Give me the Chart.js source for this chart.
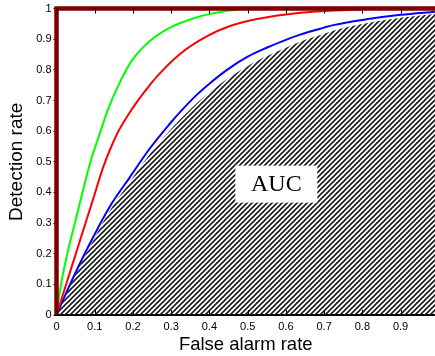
<!DOCTYPE html>
<html>
<head>
<meta charset="utf-8">
<script src="https://cdn.jsdelivr.net/npm/chart.js@4"></script>
<style>
  body { margin: 0; background: #fff; }
</style>
</head>
<body>
<canvas id="roc" width="435" height="356"></canvas>
<script>
// ROC curves, three detectors plus the ideal one
const greenX = [0, 0.005, 0.014, 0.03, 0.044, 0.06, 0.075, 0.09, 0.114, 0.136, 0.166, 0.197, 0.245, 0.297, 0.368, 0.42, 0.454, 0.49];
const greenY = [0, 0.045, 0.115, 0.21, 0.28, 0.36, 0.435, 0.505, 0.595, 0.675, 0.76, 0.83, 0.895, 0.938, 0.972, 0.987, 0.994, 1.0];

const redX = [0, 0.01, 0.027, 0.05, 0.07, 0.095, 0.122, 0.158, 0.192, 0.21, 0.245, 0.263, 0.323, 0.394, 0.454, 0.524, 0.60, 0.70, 0.80];
const redY = [0, 0.04, 0.107, 0.198, 0.277, 0.375, 0.482, 0.59, 0.662, 0.695, 0.752, 0.779, 0.852, 0.91, 0.943, 0.966, 0.981, 0.992, 0.997];

const blueX = [0, 0.03, 0.06, 0.088, 0.14, 0.192, 0.245, 0.297, 0.323, 0.368, 0.40, 0.446, 0.50, 0.551, 0.60, 0.637, 0.70, 0.724, 0.81, 0.90, 0.99];
const blueY = [0, 0.085, 0.165, 0.235, 0.355, 0.45, 0.545, 0.625, 0.662, 0.72, 0.755, 0.80, 0.843, 0.873, 0.898, 0.915, 0.938, 0.946, 0.965, 0.98, 0.99];
// upper edge of the hatched AUC region (sits just under the blue curve)
const hatchY = [0, 0.08, 0.158, 0.225, 0.342, 0.435, 0.527, 0.603, 0.638, 0.693, 0.726, 0.77, 0.813, 0.845, 0.872, 0.892, 0.918, 0.928, 0.952, 0.97, 0.982];

const idealX = [0, 0, 1];
const idealY = [0, 1, 1];

const xTicks = [0, 0.1, 0.2, 0.3, 0.4, 0.5, 0.6, 0.7, 0.8, 0.9];
const yTicks = [0, 0.1, 0.2, 0.3, 0.4, 0.5, 0.6, 0.7, 0.8, 0.9, 1];

const pts = (xs, ys) => xs.map((v, i) => ({ x: v, y: ys[i] }));

const ctx = document.getElementById('roc').getContext('2d');

// diagonal "////" hatch
function makeHatch() {
  const c = document.createElement('canvas');
  c.width = 5; c.height = 5;
  const g = c.getContext('2d');
  g.strokeStyle = '#1a1a1a';
  g.lineWidth = 1.6;
  g.beginPath();
  g.moveTo(0, 5); g.lineTo(5, 0);
  g.moveTo(-1, 1); g.lineTo(1, -1);
  g.moveTo(4, 6); g.lineTo(6, 4);
  g.stroke();
  return ctx.createPattern(c, 'repeat');
}

// MATLAB-like inward ticks on bottom and top edges, plus the AUC box
const frame = {
  id: 'frame',
  afterDraw(chart) {
    const { ctx, chartArea, scales } = chart;
    ctx.save();
    ctx.strokeStyle = '#000';
    ctx.lineWidth = 1;
    xTicks.forEach(t => {
      const px = Math.round(scales.x.getPixelForValue(t)) + 0.5;
      ctx.beginPath();
      ctx.moveTo(px, chartArea.bottom); ctx.lineTo(px, chartArea.bottom - 5);
      ctx.moveTo(px, chartArea.top); ctx.lineTo(px, chartArea.top + 5);
      ctx.stroke();
    });
    const cx = scales.x.getPixelForValue(0.575);
    const cy = scales.y.getPixelForValue(0.427);
    ctx.fillStyle = '#fff';
    ctx.fillRect(cx - 41, cy - 18.5, 82, 37);
    ctx.fillStyle = '#000';
    ctx.font = '24px "Liberation Serif", "Times New Roman", serif';
    ctx.textAlign = 'center';
    ctx.textBaseline = 'middle';
    ctx.fillText('AUC', cx, cy + 1);
    ctx.restore();
  }
};

const line = (data, color, width) => ({
  data,
  borderColor: color,
  borderWidth: width,
  pointRadius: 0,
  fill: false,
  cubicInterpolationMode: 'monotone'
});

new Chart(ctx, {
  type: 'scatter',
  plugins: [frame],
  data: {
    datasets: [
      Object.assign(line(pts(idealX, idealY), '#7f0000', 4.5), { cubicInterpolationMode: 'default', tension: 0, clip: false }),
      line(pts(greenX, greenY), '#00ff00', 2),
      line(pts(redX, redY), '#ff0000', 2),
      line(pts(blueX, blueY), '#0000ff', 2),
      {
        data: pts(blueX, hatchY),
        showLine: true,
        borderWidth: 0,
        pointRadius: 0,
        fill: 'origin',
        backgroundColor: makeHatch(),
        cubicInterpolationMode: 'monotone'
      }
    ]
  },
  options: {
    responsive: false,
    animation: false,
    showLine: true,
    layout: { padding: { top: 7, right: 0, left: 0, bottom: 0 } },
    plugins: { legend: { display: false }, tooltip: { enabled: false } },
    scales: {
      x: {
        type: 'linear',
        min: 0,
        max: 0.99,
        afterBuildTicks: s => { s.ticks = xTicks.map(v => ({ value: v })); },
        afterFit: s => { s.height = 41; },
        grid: { display: false, drawTicks: false },
        border: { color: '#000', width: 2 },
        ticks: {
          padding: 5,
          color: '#000',
          font: { family: '"Liberation Sans", Arial', size: 11 },
          callback: v => String(+v.toFixed(1))
        },
        title: {
          display: true,
          text: 'False alarm rate',
          color: '#000',
          font: { family: '"Liberation Sans", Arial', size: 18.5 },
          padding: { top: 0, bottom: 0 }
        }
      },
      y: {
        type: 'linear',
        min: 0,
        max: 1,
        afterBuildTicks: s => { s.ticks = yTicks.map(v => ({ value: v })); },
        afterFit: s => { s.width = 56.5; },
        grid: { drawOnChartArea: false, drawTicks: true, tickLength: 3, color: '#000' },
        border: { display: false },
        ticks: {
          padding: 2,
          color: '#000',
          font: { family: '"Liberation Sans", Arial', size: 11 },
          callback: v => String(+v.toFixed(1))
        },
        title: {
          display: true,
          text: 'Detection rate',
          color: '#000',
          font: { family: '"Liberation Sans", Arial', size: 19 },
          padding: { top: 5, bottom: 0 }
        }
      }
    }
  }
});
</script>
</body>
</html>
